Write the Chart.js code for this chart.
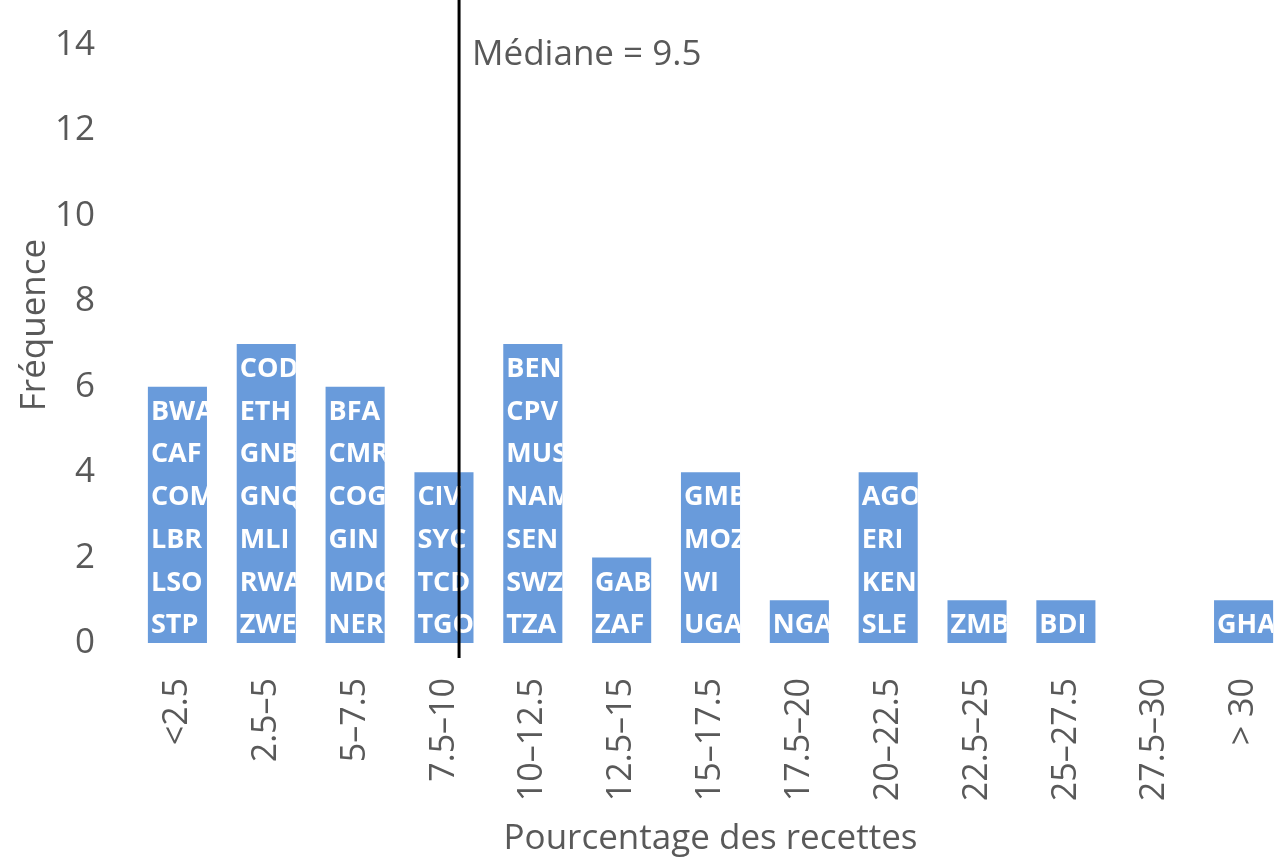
<!DOCTYPE html>
<html>
<head>
<meta charset="utf-8">
<script src="https://cdn.jsdelivr.net/npm/chart.js@4"></script>
<style>
  html, body { margin: 0; padding: 0; background: #fff; overflow: hidden; }
  #wrap { width: 1290px; height: 862px; }
</style>
</head>
<body>
<div id="wrap"><canvas id="hist-chart" width="1290" height="862"></canvas></div>
<script>
// Bins (percentage of revenue)
const categories = ['<2.5', '2.5\u20135', '5\u20137.5', '7.5\u201310', '10\u201312.5', '12.5\u201315',
  '15\u201317.5', '17.5\u201320', '20\u201322.5', '22.5\u201325', '25\u201327.5', '27.5\u201330', '> 30'];

// Frequency in each bin
const frequencies = [6, 7, 6, 4, 7, 2, 4, 1, 4, 1, 1, 0, 1];

// Countries listed inside each bar, top to bottom
const countryCodes = [
  ['BWA', 'CAF', 'COM', 'LBR', 'LSO', 'STP'],
  ['COD', 'ETH', 'GNB', 'GNQ', 'MLI', 'RWA', 'ZWE'],
  ['BFA', 'CMR', 'COG', 'GIN', 'MDG', 'NER'],
  ['CIV', 'SYC', 'TCD', 'TGO'],
  ['BEN', 'CPV', 'MUS', 'NAM', 'SEN', 'SWZ', 'TZA'],
  ['GAB', 'ZAF'],
  ['GMB', 'MOZ', 'WI', 'UGA'],
  ['NGA'],
  ['AGO', 'ERI', 'KEN', 'SLE'],
  ['ZMB'],
  ['BDI'],
  [],
  ['GHA']
];

const yTicks = [0, 2, 4, 6, 8, 10, 12, 14];

const medianValue = 9.5;
const medianCategoryPos = 3.17; // where the median falls on the category axis

const GREY = '#595959';
const BAR_BLUE = '#699bdb';
const FONT = "'Open Sans', 'DejaVu Sans', sans-serif";

// country codes written inside the bars, clipped to the bar
const barLabelsPlugin = {
  id: 'barLabels',
  afterDatasetsDraw(chart) {
    const {ctx, scales} = chart;
    const {y} = scales;
    const meta = chart.getDatasetMeta(0);

    meta.data.forEach((bar, i) => {
      const codes = countryCodes[i];
      if (!codes.length) return;
      const left = bar.x - bar.width / 2;
      const top = bar.y;
      const bottom = bar.base;

      ctx.save();
      ctx.beginPath();
      ctx.rect(left, top, bar.width, bottom - top);
      ctx.clip();
      ctx.fillStyle = '#ffffff';
      ctx.font = 'bold 27px ' + FONT;
      ctx.textAlign = 'left';
      ctx.textBaseline = 'middle';
      codes.forEach((code, j) => {
        const k = codes.length - 1 - j; // position counted from the bottom
        const yPos = y.getPixelForValue(k + 0.5) + 4;
        ctx.fillText(code, left + 3, yPos);
      });
      ctx.restore();
    });
  }
};

// vertical median line with its label, plus the y axis title
const medianPlugin = {
  id: 'medianLine',
  afterDraw(chart) {
    const {ctx, scales, chartArea} = chart;
    const {x} = scales;
    const xPos = x.getPixelForValue(medianCategoryPos);

    ctx.save();
    ctx.beginPath();
    ctx.moveTo(xPos, 0);
    ctx.lineTo(xPos, chartArea.bottom + 15);
    ctx.strokeStyle = '#000000';
    ctx.lineWidth = 3;
    ctx.stroke();

    ctx.fillStyle = GREY;
    ctx.font = '35px ' + FONT;
    ctx.textAlign = 'left';
    ctx.textBaseline = 'middle';
    ctx.fillText('M\u00e9diane = ' + medianValue, xPos + 13, chartArea.top + 10);

    // y title, sitting a bit above the middle of the plot
    ctx.translate(35, (chartArea.top + chartArea.bottom) / 2 - 19);
    ctx.rotate(-Math.PI / 2);
    ctx.textAlign = 'center';
    ctx.fillText('Fr\u00e9quence', 0, 0);
    ctx.restore();
  }
};

const ctx = document.getElementById('hist-chart').getContext('2d');

new Chart(ctx, {
  type: 'bar',
  data: {
    labels: categories,
    datasets: [{
      label: 'Fréquence',
      data: frequencies,
      backgroundColor: BAR_BLUE,
      borderWidth: 0,
      barPercentage: 0.665,
      categoryPercentage: 1.0
    }]
  },
  options: {
    responsive: false,
    animation: false,
    layout: {
      padding: { top: 45, right: 2, left: 0, bottom: 0 }
    },
    scales: {
      x: {
        grid: { display: false, drawTicks: false },
        border: { display: false },
        ticks: {
          color: GREY,
          font: { family: FONT, size: 34 },
          minRotation: 90,
          maxRotation: 90,
          autoSkip: false,
          padding: 35
        },
        title: {
          display: true,
          text: 'Pourcentage des recettes',
          color: GREY,
          font: { family: FONT, size: 35 },
          padding: { top: 0, bottom: 2 }
        },
        afterFit(scale) {
          scale.height = 219;
          scale.paddingLeft = 0;
          scale.paddingRight = 0;
        }
      },
      y: {
        min: 0,
        max: 14,
        grid: { display: false, drawTicks: false },
        border: { display: false },
        afterBuildTicks(scale) { scale.ticks = yTicks.map(v => ({ value: v })); },
        ticks: {
          color: GREY,
          font: { family: FONT, size: 35 },
          padding: 38
        },
        afterFit(scale) {
          scale.width = 133;
          scale.paddingTop = 0;
          scale.paddingBottom = 0;
        }
      }
    },
    plugins: {
      legend: { display: false },
      tooltip: { enabled: false }
    }
  },
  plugins: [barLabelsPlugin, medianPlugin]
});
</script>
</body>
</html>
